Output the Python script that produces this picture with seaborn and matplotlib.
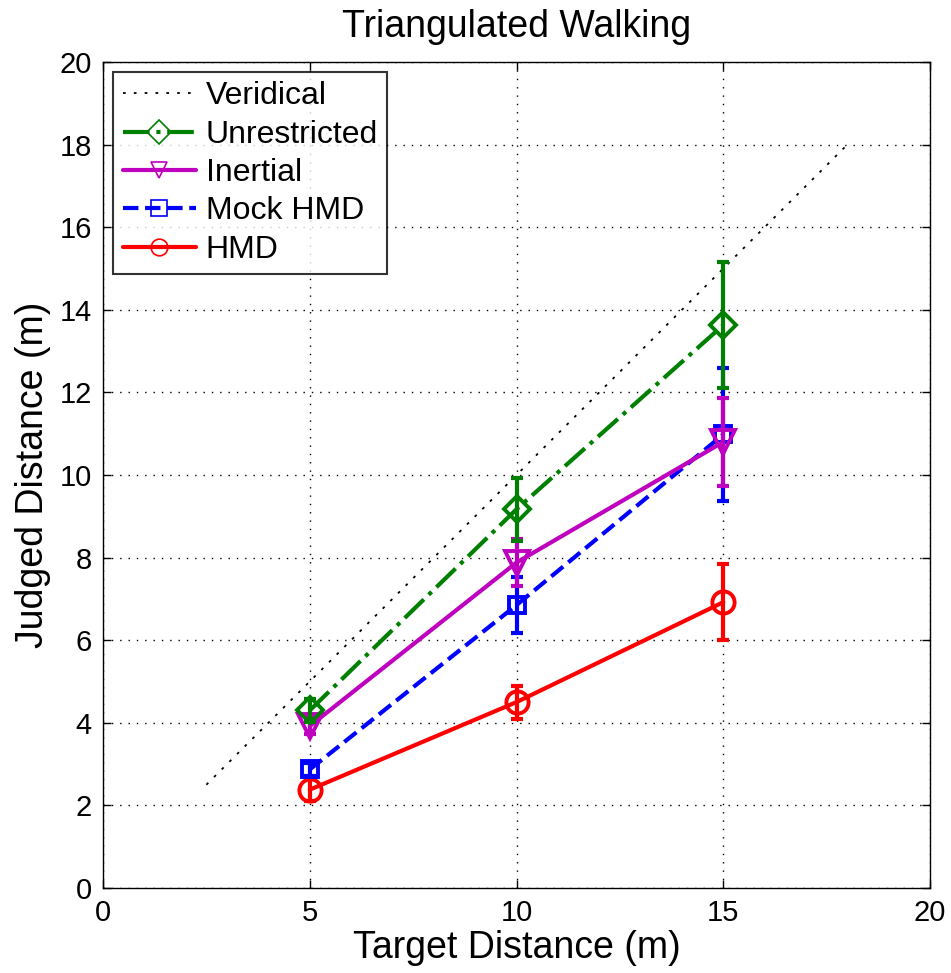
import numpy as np
import pandas as pd
import matplotlib
matplotlib.use("Agg")
import matplotlib.pyplot as plt
import seaborn as sns

# data
targets = [5, 10, 15]
conditions = ["Unrestricted", "Inertial", "Mock HMD", "HMD"]
unrestricted = [4.3, 9.17, 13.63]
unrestricted_err = [0.28, 0.76, 1.52]
inertial = [3.92, 7.88, 10.8]
inertial_err = [0.2, 0.57, 1.06]
mock_hmd = [2.87, 6.85, 10.98]
mock_hmd_err = [0.15, 0.68, 1.6]
hmd = [2.38, 4.5, 6.92]
hmd_err = [0.28, 0.4, 0.92]
veridical = [2.5, 18]

sns.set_style("ticks")
plt.rcParams['font.family'] = ['Liberation Sans', 'DejaVu Sans']
plt.rcParams['text.color'] = 'black'
plt.rcParams['axes.labelcolor'] = 'black'
plt.rcParams['xtick.color'] = 'black'
plt.rcParams['ytick.color'] = 'black'

df = pd.DataFrame({
    "target": targets * 4,
    "judged": unrestricted + inertial + mock_hmd + hmd,
    "err": unrestricted_err + inertial_err + mock_hmd_err + hmd_err,
    "condition": np.repeat(conditions, 3),
})

styles = {
    "Unrestricted": dict(color="#008000", ls="-.", marker="D", ms=13, z=6),
    "Inertial": dict(color="#BF00BF", ls="-", marker="v", ms=17, z=5),
    "Mock HMD": dict(color="#0000FF", ls="--", marker="s", ms=12, z=4),
    "HMD": dict(color="#FF0000", ls="-", marker="o", ms=16, z=3),
}

fig = plt.figure(figsize=(9.51, 9.73), dpi=100)
ax = fig.add_axes([0.1083, 0.0874, 0.8697, 0.8489])

ax.plot(veridical, veridical, ls=(0, (1.5, 4.5)), color="black", lw=1.3,
        label="Veridical", zorder=2)

for cond in conditions:
    st = styles[cond]
    sub = df[df["condition"] == cond]
    sns.lineplot(data=sub, x="target", y="judged", ax=ax, color=st["color"],
                 linestyle=st["ls"], lw=3, marker=st["marker"], markersize=st["ms"],
                 markerfacecolor="none", markeredgecolor=st["color"], markeredgewidth=2.8,
                 label=cond, zorder=st["z"], errorbar=None)
    ax.errorbar(sub["target"], sub["judged"], yerr=sub["err"], fmt="none",
                ecolor=st["color"], elinewidth=3, capsize=4, capthick=3, zorder=st["z"])

ax.set_xlim(0, 20)
ax.set_ylim(0, 20)
ax.set_xticks(range(0, 21, 5))
ax.set_yticks(range(0, 21, 2))
ax.grid(True, ls=(0, (1, 5)), color="black", lw=1)
ax.tick_params(direction="in", length=6, labelsize=21, top=True, right=True, width=1, pad=8)
for sp in ax.spines.values():
    sp.set_linewidth(1)
    sp.set_color("black")

ax.set_title("Triangulated Walking", fontsize=27, pad=18)
ax.set_xlabel("Target Distance (m)", fontsize=27, labelpad=2)
ax.set_ylabel("Judged Distance (m)", fontsize=27, labelpad=6)

leg = ax.legend(loc="upper left", fontsize=23, frameon=True, fancybox=False,
                edgecolor="black", handlelength=2.3, handletextpad=0.3, borderpad=0.3,
                borderaxespad=0, labelspacing=0.26, bbox_to_anchor=(0.012, 0.988))
leg.get_frame().set_linewidth(1.5)
for h in leg.legend_handles:
    h.set_markeredgewidth(1.2)
    h.set_markersize(12)

fig.savefig("out.png", dpi=100)
